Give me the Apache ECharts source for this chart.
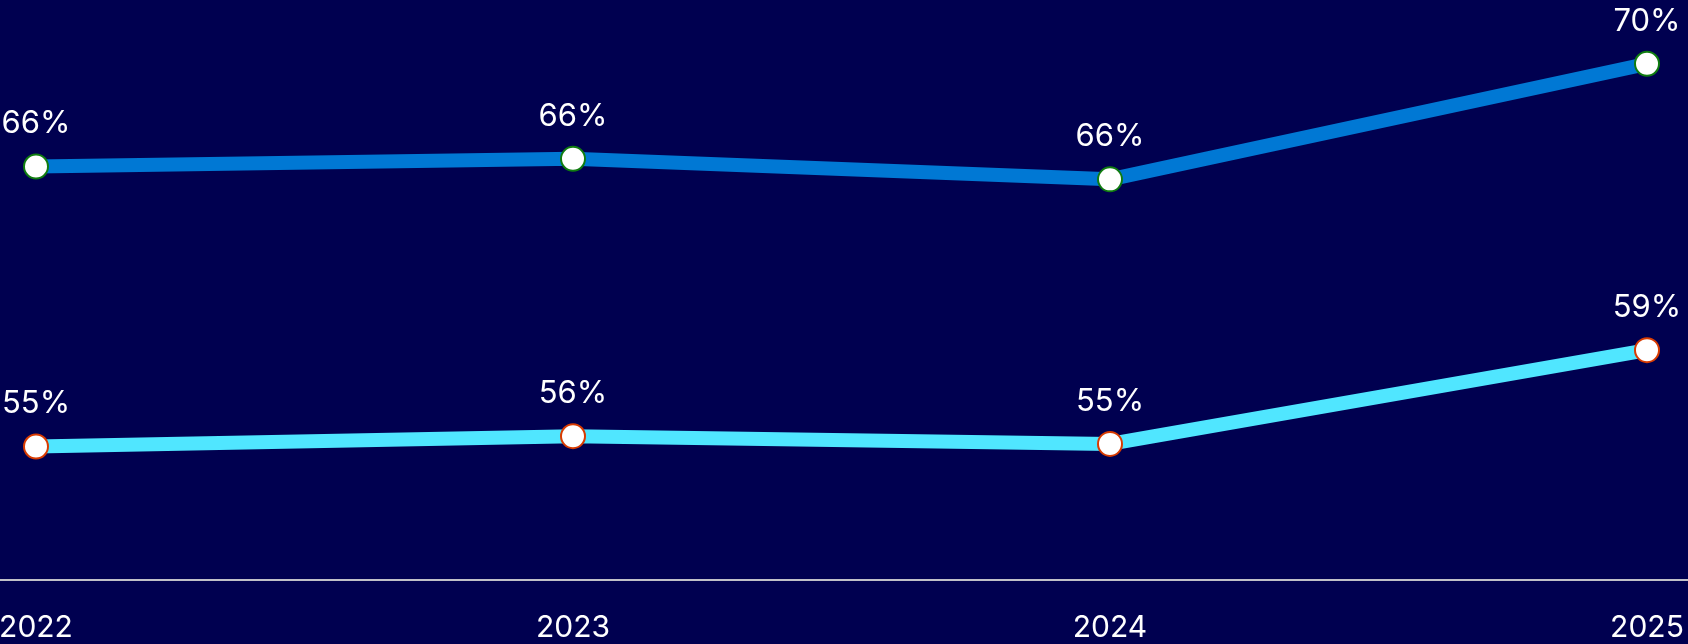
<!DOCTYPE html>
<html>
<head>
<meta charset="utf-8">
<script src="https://cdn.jsdelivr.net/npm/echarts@6/dist/echarts.min.js"></script>
<style>
html,body{margin:0;padding:0;background:#000050;}
#c{width:1688px;height:644px;}
</style>
</head>
<body>
<div id="c"></div>
<script>
var years = ['2022', '2023', '2024', '2025'];
var seriesTop = [66.1, 66.4, 65.6, 70.1];
var seriesBottom = [55.2, 55.6, 55.3, 58.95];

var chart = echarts.init(document.getElementById('c'));
function lbl() {
  return {
    show: true,
    position: 'top',
    distance: 14,
    color: '#ffffff',
    fontFamily: 'Inter',
    fontSize: 31,
    formatter: function (p) { return Math.round(p.value) + '%'; }
  };
}
chart.setOption({
  backgroundColor: '#000050',
  animation: false,
  grid: { left: 36, right: 41, top: 15, bottom: 64, containLabel: false, outerBoundsMode: 'none' },
  xAxis: {
    type: 'category',
    data: years,
    boundaryGap: false,
    axisLine: { show: false },
    axisTick: { show: false },
    axisLabel: { color: '#ffffff', fontFamily: 'Inter', fontSize: 30, margin: 33 }
  },
  yAxis: { type: 'value', min: 50, max: 72, show: false },
  graphic: [{
    type: 'line',
    shape: { x1: 0, y1: 580, x2: 1688, y2: 580 },
    style: { stroke: '#c0c0c8', lineWidth: 2 },
    z: 1
  }],
  series: [
    {
      type: 'line',
      data: seriesTop,
      lineStyle: { color: '#0078D4', width: 14 },
      symbol: 'circle',
      symbolSize: 24,
      itemStyle: { color: '#ffffff', borderColor: '#107C10', borderWidth: 2 },
      label: lbl()
    },
    {
      type: 'line',
      data: seriesBottom,
      lineStyle: { color: '#50E6FF', width: 14 },
      symbol: 'circle',
      symbolSize: 24,
      itemStyle: { color: '#ffffff', borderColor: '#D83B01', borderWidth: 2 },
      label: lbl()
    }
  ]
});
</script>
</body>
</html>
